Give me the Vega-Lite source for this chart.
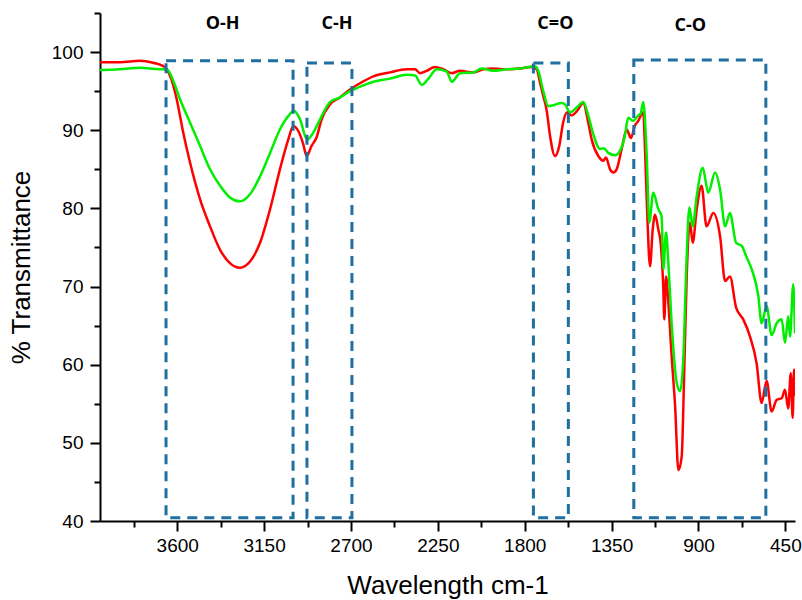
{
  "$schema": "https://vega.github.io/schema/vega-lite/v6.json",
  "width": 695,
  "height": 508,
  "autosize": {"type": "none"},
  "padding": {"left": 100, "top": 13, "right": 7, "bottom": 79},
  "background": "white",
  "config": {"view": {"stroke": null}, "font": "Liberation Sans"},
  "datasets": {
    "spectra": [
      {"series": "red", "wn": 4000, "t": 98.7},
      {"series": "red", "wn": 3896, "t": 98.7},
      {"series": "red", "wn": 3793, "t": 98.9},
      {"series": "red", "wn": 3720, "t": 98.6},
      {"series": "red", "wn": 3680, "t": 98.3},
      {"series": "red", "wn": 3654, "t": 97.8},
      {"series": "red", "wn": 3630, "t": 96.5},
      {"series": "red", "wn": 3603, "t": 94.0},
      {"series": "red", "wn": 3569, "t": 89.7},
      {"series": "red", "wn": 3534, "t": 85.9},
      {"series": "red", "wn": 3482, "t": 81.2},
      {"series": "red", "wn": 3430, "t": 77.7},
      {"series": "red", "wn": 3378, "t": 74.7},
      {"series": "red", "wn": 3327, "t": 73.0},
      {"series": "red", "wn": 3275, "t": 72.4},
      {"series": "red", "wn": 3223, "t": 73.2},
      {"series": "red", "wn": 3171, "t": 75.6},
      {"series": "red", "wn": 3119, "t": 79.9},
      {"series": "red", "wn": 3068, "t": 85.0},
      {"series": "red", "wn": 3025, "t": 88.8},
      {"series": "red", "wn": 2999, "t": 90.5},
      {"series": "red", "wn": 2973, "t": 89.9},
      {"series": "red", "wn": 2947, "t": 88.2},
      {"series": "red", "wn": 2930, "t": 86.7},
      {"series": "red", "wn": 2904, "t": 88.0},
      {"series": "red", "wn": 2878, "t": 89.1},
      {"series": "red", "wn": 2852, "t": 91.4},
      {"series": "red", "wn": 2809, "t": 93.3},
      {"series": "red", "wn": 2757, "t": 94.2},
      {"series": "red", "wn": 2705, "t": 95.2},
      {"series": "red", "wn": 2640, "t": 96.2},
      {"series": "red", "wn": 2584, "t": 96.9},
      {"series": "red", "wn": 2498, "t": 97.4},
      {"series": "red", "wn": 2411, "t": 97.8},
      {"series": "red", "wn": 2368, "t": 97.8},
      {"series": "red", "wn": 2342, "t": 97.3},
      {"series": "red", "wn": 2308, "t": 97.6},
      {"series": "red", "wn": 2265, "t": 98.1},
      {"series": "red", "wn": 2222, "t": 97.8},
      {"series": "red", "wn": 2178, "t": 97.3},
      {"series": "red", "wn": 2135, "t": 97.6},
      {"series": "red", "wn": 2066, "t": 97.4},
      {"series": "red", "wn": 2014, "t": 97.8},
      {"series": "red", "wn": 1963, "t": 97.9},
      {"series": "red", "wn": 1893, "t": 97.8},
      {"series": "red", "wn": 1824, "t": 97.9},
      {"series": "red", "wn": 1764, "t": 98.1},
      {"series": "red", "wn": 1738, "t": 97.8},
      {"series": "red", "wn": 1721, "t": 96.1},
      {"series": "red", "wn": 1704, "t": 94.4},
      {"series": "red", "wn": 1686, "t": 92.5},
      {"series": "red", "wn": 1669, "t": 89.3},
      {"series": "red", "wn": 1643, "t": 86.7},
      {"series": "red", "wn": 1621, "t": 88.0},
      {"series": "red", "wn": 1601, "t": 91.0},
      {"series": "red", "wn": 1580, "t": 92.3},
      {"series": "red", "wn": 1557, "t": 91.9},
      {"series": "red", "wn": 1531, "t": 92.4},
      {"series": "red", "wn": 1497, "t": 93.5},
      {"series": "red", "wn": 1471, "t": 91.0},
      {"series": "red", "wn": 1453, "t": 88.8},
      {"series": "red", "wn": 1419, "t": 86.7},
      {"series": "red", "wn": 1393, "t": 86.1},
      {"series": "red", "wn": 1379, "t": 86.5},
      {"series": "red", "wn": 1358, "t": 85.0},
      {"series": "red", "wn": 1341, "t": 84.6},
      {"series": "red", "wn": 1324, "t": 85.0},
      {"series": "red", "wn": 1298, "t": 87.6},
      {"series": "red", "wn": 1272, "t": 90.1},
      {"series": "red", "wn": 1250, "t": 89.0},
      {"series": "red", "wn": 1229, "t": 90.6},
      {"series": "red", "wn": 1212, "t": 91.2},
      {"series": "red", "wn": 1194, "t": 92.1},
      {"series": "red", "wn": 1186, "t": 92.3},
      {"series": "red", "wn": 1177, "t": 87.6},
      {"series": "red", "wn": 1165, "t": 79.0},
      {"series": "red", "wn": 1151, "t": 72.6},
      {"series": "red", "wn": 1137, "t": 77.3},
      {"series": "red", "wn": 1125, "t": 79.2},
      {"series": "red", "wn": 1108, "t": 77.3},
      {"series": "red", "wn": 1096, "t": 75.6},
      {"series": "red", "wn": 1082, "t": 69.6},
      {"series": "red", "wn": 1077, "t": 65.8},
      {"series": "red", "wn": 1068, "t": 71.3},
      {"series": "red", "wn": 1056, "t": 67.9},
      {"series": "red", "wn": 1039, "t": 61.1},
      {"series": "red", "wn": 1021, "t": 54.7},
      {"series": "red", "wn": 1004, "t": 46.5},
      {"series": "red", "wn": 987, "t": 48.2},
      {"series": "red", "wn": 974, "t": 58.9},
      {"series": "red", "wn": 961, "t": 71.3},
      {"series": "red", "wn": 944, "t": 78.2},
      {"series": "red", "wn": 930, "t": 75.6},
      {"series": "red", "wn": 909, "t": 79.9},
      {"series": "red", "wn": 884, "t": 82.9},
      {"series": "red", "wn": 858, "t": 77.7},
      {"series": "red", "wn": 823, "t": 79.4},
      {"series": "red", "wn": 788, "t": 76.4},
      {"series": "red", "wn": 762, "t": 70.7},
      {"series": "red", "wn": 737, "t": 71.3},
      {"series": "red", "wn": 705, "t": 67.3},
      {"series": "red", "wn": 668, "t": 65.8},
      {"series": "red", "wn": 633, "t": 63.6},
      {"series": "red", "wn": 599, "t": 60.2},
      {"series": "red", "wn": 573, "t": 55.1},
      {"series": "red", "wn": 547, "t": 57.9},
      {"series": "red", "wn": 521, "t": 54.0},
      {"series": "red", "wn": 495, "t": 55.5},
      {"series": "red", "wn": 469, "t": 55.7},
      {"series": "red", "wn": 452, "t": 56.8},
      {"series": "red", "wn": 435, "t": 54.4},
      {"series": "red", "wn": 422, "t": 58.9},
      {"series": "red", "wn": 412, "t": 53.2},
      {"series": "red", "wn": 405, "t": 59.4},
      {"series": "red", "wn": 400, "t": 56.0},
      {"series": "green", "wn": 4000, "t": 97.7},
      {"series": "green", "wn": 3896, "t": 97.8},
      {"series": "green", "wn": 3793, "t": 98.0},
      {"series": "green", "wn": 3689, "t": 97.8},
      {"series": "green", "wn": 3654, "t": 97.8},
      {"series": "green", "wn": 3620, "t": 96.3},
      {"series": "green", "wn": 3586, "t": 94.0},
      {"series": "green", "wn": 3534, "t": 91.0},
      {"series": "green", "wn": 3482, "t": 88.0},
      {"series": "green", "wn": 3430, "t": 85.0},
      {"series": "green", "wn": 3378, "t": 82.9},
      {"series": "green", "wn": 3327, "t": 81.4},
      {"series": "green", "wn": 3275, "t": 80.9},
      {"series": "green", "wn": 3223, "t": 81.8},
      {"series": "green", "wn": 3171, "t": 84.1},
      {"series": "green", "wn": 3119, "t": 87.1},
      {"series": "green", "wn": 3068, "t": 90.1},
      {"series": "green", "wn": 3025, "t": 91.8},
      {"series": "green", "wn": 2995, "t": 92.5},
      {"series": "green", "wn": 2964, "t": 91.4},
      {"series": "green", "wn": 2927, "t": 88.8},
      {"series": "green", "wn": 2895, "t": 89.7},
      {"series": "green", "wn": 2860, "t": 91.4},
      {"series": "green", "wn": 2809, "t": 93.6},
      {"series": "green", "wn": 2757, "t": 94.2},
      {"series": "green", "wn": 2705, "t": 95.0},
      {"series": "green", "wn": 2640, "t": 95.7},
      {"series": "green", "wn": 2584, "t": 96.2},
      {"series": "green", "wn": 2498, "t": 96.6},
      {"series": "green", "wn": 2411, "t": 97.1},
      {"series": "green", "wn": 2368, "t": 97.0},
      {"series": "green", "wn": 2333, "t": 95.8},
      {"series": "green", "wn": 2299, "t": 96.6},
      {"series": "green", "wn": 2256, "t": 97.8},
      {"series": "green", "wn": 2204, "t": 97.5},
      {"series": "green", "wn": 2178, "t": 96.2},
      {"series": "green", "wn": 2135, "t": 97.3},
      {"series": "green", "wn": 2066, "t": 97.4},
      {"series": "green", "wn": 2023, "t": 97.9},
      {"series": "green", "wn": 1963, "t": 97.6},
      {"series": "green", "wn": 1893, "t": 97.8},
      {"series": "green", "wn": 1824, "t": 97.9},
      {"series": "green", "wn": 1747, "t": 98.2},
      {"series": "green", "wn": 1730, "t": 97.6},
      {"series": "green", "wn": 1704, "t": 95.0},
      {"series": "green", "wn": 1678, "t": 93.1},
      {"series": "green", "wn": 1652, "t": 93.2},
      {"series": "green", "wn": 1609, "t": 93.5},
      {"series": "green", "wn": 1591, "t": 93.3},
      {"series": "green", "wn": 1565, "t": 92.3},
      {"series": "green", "wn": 1531, "t": 92.9},
      {"series": "green", "wn": 1497, "t": 93.6},
      {"series": "green", "wn": 1471, "t": 91.9},
      {"series": "green", "wn": 1445, "t": 89.5},
      {"series": "green", "wn": 1410, "t": 87.6},
      {"series": "green", "wn": 1390, "t": 87.7},
      {"series": "green", "wn": 1367, "t": 87.1},
      {"series": "green", "wn": 1332, "t": 86.8},
      {"series": "green", "wn": 1306, "t": 87.4},
      {"series": "green", "wn": 1281, "t": 89.3},
      {"series": "green", "wn": 1264, "t": 91.6},
      {"series": "green", "wn": 1238, "t": 91.2},
      {"series": "green", "wn": 1212, "t": 91.9},
      {"series": "green", "wn": 1200, "t": 92.1},
      {"series": "green", "wn": 1186, "t": 93.6},
      {"series": "green", "wn": 1168, "t": 86.7},
      {"series": "green", "wn": 1155, "t": 78.2},
      {"series": "green", "wn": 1134, "t": 82.0},
      {"series": "green", "wn": 1108, "t": 79.9},
      {"series": "green", "wn": 1091, "t": 79.0},
      {"series": "green", "wn": 1082, "t": 72.2},
      {"series": "green", "wn": 1068, "t": 76.9},
      {"series": "green", "wn": 1056, "t": 73.0},
      {"series": "green", "wn": 1039, "t": 65.3},
      {"series": "green", "wn": 1012, "t": 57.6},
      {"series": "green", "wn": 995, "t": 56.6},
      {"series": "green", "wn": 978, "t": 61.1},
      {"series": "green", "wn": 964, "t": 71.8},
      {"series": "green", "wn": 947, "t": 80.1},
      {"series": "green", "wn": 930, "t": 77.7},
      {"series": "green", "wn": 909, "t": 81.6},
      {"series": "green", "wn": 878, "t": 85.2},
      {"series": "green", "wn": 849, "t": 82.0},
      {"series": "green", "wn": 814, "t": 84.6},
      {"series": "green", "wn": 788, "t": 82.4},
      {"series": "green", "wn": 762, "t": 77.7},
      {"series": "green", "wn": 737, "t": 79.4},
      {"series": "green", "wn": 705, "t": 75.6},
      {"series": "green", "wn": 676, "t": 75.2},
      {"series": "green", "wn": 650, "t": 73.7},
      {"series": "green", "wn": 624, "t": 72.2},
      {"series": "green", "wn": 590, "t": 68.8},
      {"series": "green", "wn": 573, "t": 65.3},
      {"series": "green", "wn": 547, "t": 67.5},
      {"series": "green", "wn": 521, "t": 63.8},
      {"series": "green", "wn": 495, "t": 65.3},
      {"series": "green", "wn": 469, "t": 65.8},
      {"series": "green", "wn": 452, "t": 62.8},
      {"series": "green", "wn": 435, "t": 66.2},
      {"series": "green", "wn": 426, "t": 63.6},
      {"series": "green", "wn": 409, "t": 70.3},
      {"series": "green", "wn": 400, "t": 64.0}
    ],
    "boxes": [
      {"name": "O-H", "x1": 3658, "x2": 3000, "y1": 40.4, "y2": 98.9},
      {"name": "C-H", "x1": 2928, "x2": 2695, "y1": 40.4, "y2": 98.6},
      {"name": "C=O", "x1": 1755, "x2": 1574, "y1": 40.4, "y2": 98.6},
      {"name": "C-O", "x1": 1235, "x2": 551, "y1": 40.4, "y2": 99.0}
    ],
    "labels": [
      {"label": "O-H", "wn": 3365, "t": 103.65},
      {"label": "C-H", "wn": 2772, "t": 103.65},
      {"label": "C=O", "wn": 1641, "t": 103.65},
      {"label": "C-O", "wn": 942, "t": 103.4}
    ]
  },
  "layer": [
    {
      "data": {"name": "spectra"},
      "transform": [{"filter": "datum.series === 'red'"}],
      "mark": {"type": "line", "color": "#ff0000", "strokeWidth": 2.5, "clip": true, "interpolate": "monotone"},
      "encoding": {
        "x": {
          "field": "wn", "type": "quantitative",
          "scale": {"domain": [400, 4000], "reverse": true, "nice": false, "zero": false},
          "axis": {
            "orient": "bottom",
            "values": [3600, 3150, 2700, 2250, 1800, 1350, 900, 450],
            "format": "d",
            "tickSize": 10, "tickWidth": 2, "tickColor": "black",
            "domainColor": "black", "domainWidth": 2,
            "labelFontSize": 19, "labelColor": "black", "labelFont": "Liberation Sans",
            "labelPadding": 5, "labelFlush": false, "labelOverlap": false,
            "title": "Wavelength cm-1", "titleFontSize": 26, "titleFontWeight": "normal",
            "titleColor": "black", "titleFont": "Liberation Sans", "titlePadding": 17,
            "grid": false
          }
        },
        "y": {
          "field": "t", "type": "quantitative",
          "scale": {"domain": [40, 105], "nice": false, "zero": false},
          "axis": {
            "orient": "left",
            "values": [40, 50, 60, 70, 80, 90, 100],
            "tickSize": 10, "tickWidth": 2, "tickColor": "black",
            "domainColor": "black", "domainWidth": 2,
            "labelFontSize": 19, "labelColor": "black", "labelFont": "Liberation Sans",
            "labelPadding": 7, "labelFlush": false, "labelOverlap": false,
            "title": "% Transmittance", "titleFontSize": 26, "titleFontWeight": "normal",
            "titleColor": "black", "titleFont": "Liberation Sans", "titlePadding": 17,
            "grid": false
          }
        }
      }
    },
    {
      "data": {"name": "spectra"},
      "transform": [{"filter": "datum.series === 'green'"}],
      "mark": {"type": "line", "color": "#00ee00", "strokeWidth": 2.5, "clip": true, "interpolate": "monotone"},
      "encoding": {
        "x": {
          "field": "wn", "type": "quantitative",
          "axis": {
            "orient": "bottom",
            "values": [3825, 3375, 2925, 2475, 2025, 1575, 1125, 675],
            "labels": false, "domain": false,
            "tickSize": 6, "tickWidth": 2, "tickColor": "black",
            "title": null, "grid": false
          }
        },
        "y": {
          "field": "t", "type": "quantitative",
          "axis": {
            "orient": "left",
            "values": [45, 55, 65, 75, 85, 95, 105],
            "labels": false, "domain": false,
            "tickSize": 6, "tickWidth": 2, "tickColor": "black",
            "title": null, "grid": false
          }
        }
      }
    },
    {
      "data": {"name": "boxes"},
      "mark": {"type": "rect", "filled": false, "stroke": "#1f6fa0", "strokeWidth": 3, "strokeDash": [10, 7]},
      "encoding": {
        "x": {"field": "x1", "type": "quantitative", "axis": null},
        "x2": {"field": "x2"},
        "y": {"field": "y1", "type": "quantitative", "axis": null},
        "y2": {"field": "y2"}
      }
    },
    {
      "data": {"name": "labels"},
      "mark": {"type": "text", "font": "Open Sans", "fontWeight": "bold", "fontSize": 18, "color": "black", "baseline": "middle", "align": "center"},
      "encoding": {
        "x": {"field": "wn", "type": "quantitative", "axis": null},
        "y": {"field": "t", "type": "quantitative", "axis": null},
        "text": {"field": "label"}
      }
    }
  ],
  "resolve": {"axis": {"x": "independent", "y": "independent"}}
}
